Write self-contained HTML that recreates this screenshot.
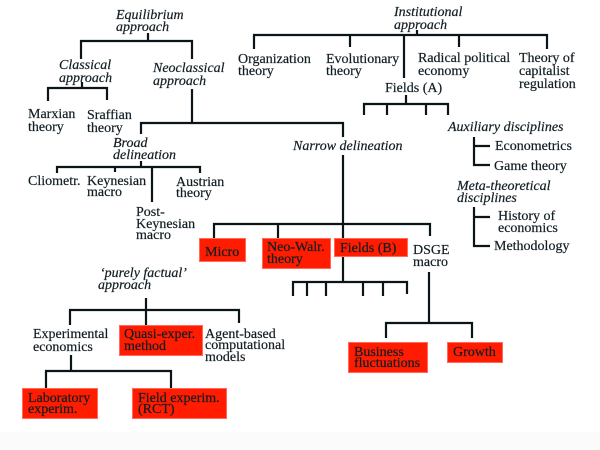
<!DOCTYPE html>
<html><head><meta charset="utf-8"><style>
html,body{margin:0;padding:0;background:#fff;}
svg{display:block;}
text{font-family:"Liberation Serif","Times New Roman",serif;font-size:14px;fill:#101d23;stroke:#101d23;stroke-width:0.2px;}
.i{font-style:italic;}
</style></head><body>
<svg width="600" height="450" viewBox="0 0 600 450" xmlns="http://www.w3.org/2000/svg">
<rect x="0" y="0" width="600" height="450" fill="#fff"/>
<rect x="0" y="432" width="600" height="18" fill="#fbfbfb"/>
<g stroke="#0b1519" stroke-width="2.2" fill="none">
<path d="M148 33V41M81 59V41H192V59"/>
<path d="M82 82V88M48 101V88H107V100"/>
<path d="M192 89V123M141 134V123H343V137"/>
<path d="M417 30V35M254 49V35H547V49M350 35V47M404 35V78M459 35V47"/>
<path d="M406 95V104M364 115V104H448V115M387 104V115M426 104V115"/>
<path d="M141 161V167M57 173V167H200V173M115 167V172M152 167V202"/>
<path d="M343 155V238M214 238V224H430V236M278 224V238"/>
<path d="M343 256V282M293 296V282H407V294M307 282V296M326 282V296M363 282V296M383 282V296"/>
<path d="M429 272V323M386 338V323H472V338"/>
<path d="M146 298V325M70 325V310H239V323"/>
<path d="M71 355V371M46 388V371H171V388"/>
<path d="M474 137V165H490M474 146H490"/>
<path d="M474 207V246H490M474 217H490"/>
</g>
<g fill="#ff1c00" stroke="#ff6a5a" stroke-width="1">
<rect x="199.5" y="238.5" width="46" height="23"/>
<rect x="262.5" y="238.5" width="68" height="30"/>
<rect x="334.5" y="238.5" width="73" height="18"/>
<rect x="348.5" y="342.5" width="79" height="30"/>
<rect x="447.5" y="342.5" width="55" height="20"/>
<rect x="119.5" y="325.5" width="83" height="30"/>
<rect x="22.5" y="388.5" width="75" height="30"/>
<rect x="132.5" y="388.5" width="94" height="30"/>
</g>
<g>
<text class="i" x="116" y="19">Equilibrium</text>
<text class="i" x="116" y="31">approach</text>
<text class="i" x="59" y="69">Classical</text>
<text class="i" x="59" y="82">approach</text>
<text class="i" x="153" y="72">Neoclassical</text>
<text class="i" x="153" y="85">approach</text>
<text x="28" y="118">Marxian</text>
<text x="28" y="131">theory</text>
<text x="87" y="119">Sraffian</text>
<text x="87" y="132">theory</text>
<text class="i" x="394" y="16">Institutional</text>
<text class="i" x="394" y="29">approach</text>
<text x="238" y="63">Organization</text>
<text x="238" y="75">theory</text>
<text x="326" y="63">Evolutionary</text>
<text x="326" y="75">theory</text>
<text x="418" y="62">Radical political</text>
<text x="418" y="75">economy</text>
<text x="519" y="62">Theory of</text>
<text x="519" y="75">capitalist</text>
<text x="519" y="88">regulation</text>
<text x="385" y="92">Fields (A)</text>
<text class="i" x="448" y="131">Auxiliary disciplines</text>
<text x="495" y="150">Econometrics</text>
<text x="494" y="170">Game theory</text>
<text class="i" x="457" y="190">Meta-theoretical</text>
<text class="i" x="457" y="202">disciplines</text>
<text x="498" y="220">History of</text>
<text x="498" y="232">economics</text>
<text x="494" y="250">Methodology</text>
<text class="i" x="113" y="147">Broad</text>
<text class="i" x="113" y="159">delineation</text>
<text x="28" y="185">Cliometr.</text>
<text x="87" y="185">Keynesian</text>
<text x="87" y="196">macro</text>
<text x="176" y="186">Austrian</text>
<text x="176" y="197">theory</text>
<text x="136" y="216">Post-</text>
<text x="136" y="228">Keynesian</text>
<text x="136" y="239">macro</text>
<text class="i" x="293" y="150">Narrow delineation</text>
<text x="205" y="256">Micro</text>
<text x="267" y="251">Neo-Walr.</text>
<text x="267" y="263">theory</text>
<text x="340" y="252">Fields (B)</text>
<text x="413" y="254">DSGE</text>
<text x="413" y="266">macro</text>
<text class="i" x="100" y="277">‘purely factual’</text>
<text class="i" x="98" y="289">approach</text>
<text x="33" y="338">Experimental</text>
<text x="33" y="351">economics</text>
<text x="124" y="338">Quasi-exper.</text>
<text x="124" y="350">method</text>
<text x="205" y="338">Agent-based</text>
<text x="205" y="349">computational</text>
<text x="205" y="361">models</text>
<text x="28" y="402">Laboratory</text>
<text x="28" y="413">experim.</text>
<text x="138" y="402">Field experim.</text>
<text x="138" y="413">(RCT)</text>
<text x="354" y="356">Business</text>
<text x="354" y="367">fluctuations</text>
<text x="453" y="356">Growth</text>
</g>
</svg>
</body></html>
